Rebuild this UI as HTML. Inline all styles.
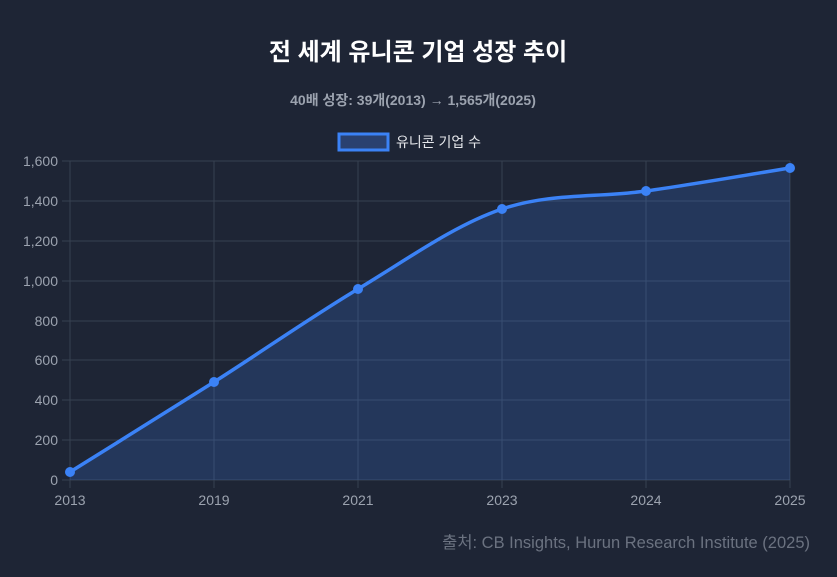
<!DOCTYPE html>
<html><head><meta charset="utf-8"><style>
html,body{margin:0;padding:0;background:#1e2535;width:837px;height:577px;overflow:hidden;font-family:"Liberation Sans","Noto Sans CJK KR",sans-serif}
svg{display:block}
</style></head><body>
<svg width="837" height="577" xmlns="http://www.w3.org/2000/svg" style="font-family:'Liberation Sans','Noto Sans CJK KR',sans-serif">
<rect width="837" height="577" fill="#1e2535"/>
<text x="418" y="60" text-anchor="middle" fill="#ffffff" font-size="24" font-weight="bold">전 세계 유니콘 기업 성장 추이</text>
<text x="413" y="105" text-anchor="middle" fill="#9ca3af" font-size="14" font-weight="bold">40배 성장: 39개(2013) → 1,565개(2025)</text>
<rect x="339" y="134" width="49" height="16" fill="#2a4170" stroke="#3b82f6" stroke-width="3"/>
<text x="396" y="147" fill="#e5e7eb" font-size="14">유니콘 기업 수</text>
<g stroke="#374151" stroke-width="1">
<line x1="62" y1="161" x2="790" y2="161"/><line x1="62" y1="201" x2="790" y2="201"/><line x1="62" y1="241" x2="790" y2="241"/><line x1="62" y1="281" x2="790" y2="281"/><line x1="62" y1="321" x2="790" y2="321"/><line x1="62" y1="360" x2="790" y2="360"/><line x1="62" y1="400" x2="790" y2="400"/><line x1="62" y1="440" x2="790" y2="440"/><line x1="62" y1="480" x2="790" y2="480"/>
<line x1="70" y1="161" x2="70" y2="488"/><line x1="214" y1="161" x2="214" y2="488"/><line x1="358" y1="161" x2="358" y2="488"/><line x1="502" y1="161" x2="502" y2="488"/><line x1="646" y1="161" x2="646" y2="488"/><line x1="790" y1="161" x2="790" y2="488"/>
</g>
<g fill="#9ca3af" font-size="14" text-anchor="end">
<text x="58" y="166">1,600</text><text x="58" y="206">1,400</text><text x="58" y="246">1,200</text><text x="58" y="286">1,000</text><text x="58" y="326">800</text><text x="58" y="365">600</text><text x="58" y="405">400</text><text x="58" y="445">200</text><text x="58" y="485">0</text>
</g>
<g fill="#9ca3af" font-size="14" text-anchor="middle">
<text x="70" y="505">2013</text><text x="214" y="505">2019</text><text x="358" y="505">2021</text><text x="502" y="505">2023</text><text x="646" y="505">2024</text><text x="790" y="505">2025</text>
</g>
<path d="M70,472 C118,442 166,412.5 214,382 C262,351.5 310,317.8 358,289 C406,260.2 454,225.3 502,209 C550,192.7 598,197.8 646,191 C694,184.2 742,175.7 790,168 L790,480 L70,480 Z" fill="#3b82f6" fill-opacity="0.2"/>
<path d="M70,472 C118,442 166,412.5 214,382 C262,351.5 310,317.8 358,289 C406,260.2 454,225.3 502,209 C550,192.7 598,197.8 646,191 C694,184.2 742,175.7 790,168" fill="none" stroke="#3b82f6" stroke-width="3.5"/>
<g fill="#3b82f6"><circle cx="70" cy="472" r="5"/><circle cx="214" cy="382" r="5"/><circle cx="358" cy="289" r="5"/><circle cx="502" cy="209" r="5"/><circle cx="646" cy="191" r="5"/><circle cx="790" cy="168" r="5"/></g>
<text x="810" y="548" text-anchor="end" fill="#6b7280" font-size="16.5">출처: CB Insights, Hurun Research Institute (2025)</text>
</svg>
</body></html>
